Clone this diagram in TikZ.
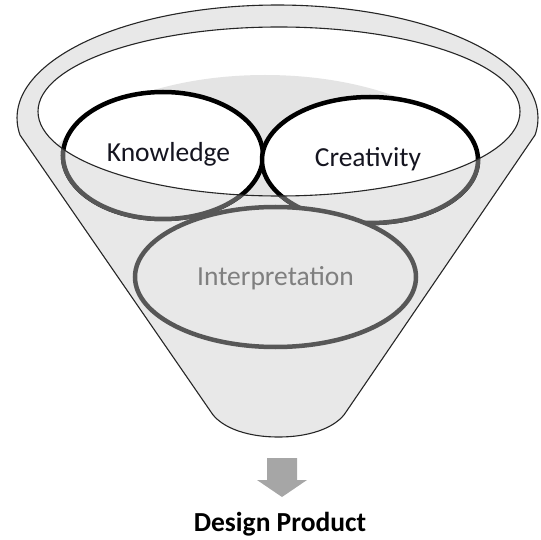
\documentclass[tikz,border=0pt]{standalone}
\usepackage{fontspec}
\setmainfont{Carlito}
\definecolor{funnelgray}{HTML}{E8E8E8}
\definecolor{wallgray}{HTML}{E4E4E4}
\definecolor{darkstroke}{HTML}{575757}
\definecolor{arrowgray}{HTML}{A6A6A6}
\definecolor{interptext}{HTML}{7F7F7F}
\definecolor{labeltext}{HTML}{151520}
\begin{document}
\begin{tikzpicture}[x=1pt,y=-1pt,
  outline/.style={draw=black!85, line width=1.1pt, line join=round},
  boldring/.style={draw=black, line width=4.5pt},
  backring/.style={draw=darkstroke, line width=4.5pt, fill=funnelgray},
  lbl/.style={anchor=base, inner sep=0pt, font=\fontsize{27.5}{32}\selectfont, text=labeltext}]
\useasboundingbox (0,0) rectangle (541,540);
% funnel silhouette
\path[fill=funnelgray, outline]
  (20,135) arc[start angle=171.35, end angle=368.65, x radius=260.5, y radius=113]
  -- (346,412) .. controls (338,425) and (315,437) .. (278.5,437)
  .. controls (242,437) and (219,425) .. (211,412) -- cycle;
% rim opening
\fill[white] (279,111.5) ellipse [x radius=241, y radius=84.5];
% back wall seen through the opening
\begin{scope}
  \clip (279,111.5) ellipse [x radius=241, y radius=84.5];
  \fill[wallgray] (265,190) ellipse [x radius=225, y radius=115];
\end{scope}
% upper rings
\path[fill=white, boldring] (163,155.5) ellipse [x radius=100, y radius=63.5];
\path[fill=white, boldring] (370,160) ellipse [x radius=108, y radius=63];
% front wall: parts of the rings below the rim
\begin{scope}[even odd rule]
  \clip (0,0) rectangle (541,540)
    (279,111.5) ellipse [x radius=241, y radius=84.5];
  \path[backring] (163,155.5) ellipse [x radius=100, y radius=63.5];
  \path[backring] (370,160) ellipse [x radius=108, y radius=63];
\end{scope}
\path[backring] (275.5,277) ellipse [x radius=140.5, y radius=70];
% rim line
\draw[outline] (279,111.5) ellipse [x radius=241, y radius=84.5];
% labels
\node[lbl] (know) at (168.5,162) {Knowledge};
\node[lbl] (crea) at (368,167) {Creativity};
\node[lbl, text=interptext] (interp) at (275.5,286) {Interpretation};
% output arrow
\fill[arrowgray] (267,458) -- (297,458) -- (297,480) -- (307,480) -- (282,497)
  -- (257,480) -- (267,480) -- cycle;
\node[lbl, font=\fontsize{27.5}{32}\selectfont\bfseries, text=black] (prod) at (280,531) {Design Product};
\end{tikzpicture}
\end{document}
